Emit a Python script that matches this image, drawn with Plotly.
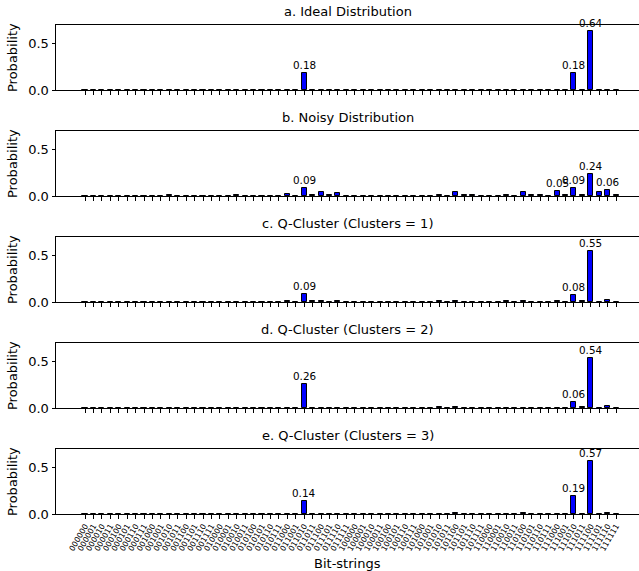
import plotly.graph_objects as go

# ---- data ----
bit_strings = [format(i, "06b") for i in range(64)]

panel_titles = [
    "a. Ideal Distribution",
    "b. Noisy Distribution",
    "c. Q-Cluster (Clusters = 1)",
    "d. Q-Cluster (Clusters = 2)",
    "e. Q-Cluster (Clusters = 3)",
]

ideal = [
    0, 0, 0, 0, 0, 0, 0, 0,
    0, 0, 0, 0, 0, 0, 0, 0,
    0, 0, 0, 0, 0, 0, 0, 0,
    0, 0, 0.18, 0, 0, 0, 0, 0,
    0, 0, 0, 0, 0, 0, 0, 0,
    0, 0, 0, 0, 0, 0, 0, 0,
    0, 0, 0, 0, 0, 0, 0, 0,
    0, 0, 0.18, 0, 0.64, 0, 0, 0,
]

noisy = [
    0.002, 0.001, 0.002, 0.001, 0.002, 0.001, 0.002, 0.002,
    0.002, 0.002, 0.006, 0.002, 0.002, 0.002, 0.002, 0.002,
    0.002, 0.002, 0.006, 0.002, 0.002, 0.002, 0.002, 0.002,
    0.025, 0.003, 0.09, 0.012, 0.046, 0.012, 0.028, 0.004,
    0.002, 0.002, 0.002, 0.002, 0.004, 0.002, 0.002, 0.002,
    0.004, 0.002, 0.01, 0.002, 0.047, 0.012, 0.012, 0.002,
    0.005, 0.002, 0.01, 0.002, 0.047, 0.012, 0.012, 0.002,
    0.052, 0.012, 0.09, 0.013, 0.243, 0.04, 0.06, 0.012,
]

qc1 = [
    0, 0, 0, 0, 0, 0, 0, 0,
    0, 0, 0.005, 0, 0, 0, 0, 0,
    0, 0, 0.004, 0, 0, 0, 0, 0,
    0.01, 0, 0.09, 0.008, 0.006, 0, 0.01, 0,
    0, 0, 0, 0, 0, 0, 0, 0,
    0, 0, 0.006, 0, 0.006, 0.002, 0.002, 0,
    0, 0, 0.006, 0, 0.006, 0, 0, 0,
    0.006, 0, 0.08, 0.01, 0.553, 0, 0.022, 0.003,
]

qc2 = [
    0, 0, 0, 0, 0, 0, 0, 0,
    0, 0, 0, 0, 0, 0, 0, 0,
    0, 0, 0, 0, 0, 0, 0, 0,
    0, 0, 0.262, 0, 0.003, 0, 0, 0,
    0, 0, 0, 0, 0, 0, 0, 0,
    0, 0, 0.006, 0, 0.006, 0, 0, 0,
    0, 0, 0.005, 0, 0.005, 0, 0, 0,
    0.005, 0, 0.063, 0.008, 0.54, 0, 0.02, 0,
]

qc3 = [
    0, 0, 0, 0, 0, 0, 0, 0,
    0, 0, 0, 0, 0, 0, 0, 0,
    0, 0, 0, 0, 0, 0, 0, 0,
    0.005, 0, 0.143, 0, 0.004, 0, 0.004, 0,
    0, 0, 0, 0, 0, 0, 0, 0,
    0, 0, 0, 0, 0.007, 0, 0, 0,
    0, 0, 0, 0, 0.007, 0, 0, 0,
    0, 0, 0.19, 0, 0.572, 0, 0.01, 0,
]

series = [ideal, noisy, qc1, qc2, qc3]
label_threshold = 0.05

# ---- layout geometry ----
W, H = 639, 571
ML, MR, MT, MB = 56, 0, 25, 57
plot_h = H - MT - MB  # 489
panel_h, gap = 65, 41
FONT = "DejaVu Sans"

fig = go.Figure()
annotations = []
x_positions = list(range(len(bit_strings)))

for k, vals in enumerate(series):
    top_px = k * (panel_h + gap)
    d1 = 1 - top_px / plot_h
    d0 = 1 - (top_px + panel_h) / plot_h
    xa = "x" if k == 0 else f"x{k+1}"
    ya = "y" if k == 0 else f"y{k+1}"
    fig.add_trace(go.Bar(
        x=x_positions, y=vals, width=0.6,
        marker=dict(color="#0000ff", line=dict(color="black", width=1)),
        xaxis=xa, yaxis=ya, showlegend=False, hoverinfo="skip",
    ))
    last = k == len(series) - 1
    fig.layout[("xaxis" if k == 0 else f"xaxis{k+1}")] = dict(
        domain=[0, 1], anchor=ya, range=[-3.44, 65.72], automargin=False,
        tickmode="array", tickvals=x_positions, ticktext=bit_strings,
        showticklabels=last, tickangle=-60,
        tickfont=dict(family=FONT, size=7.8, color="black"),
        ticks="outside", ticklen=3.5, tickwidth=0.8, tickcolor="black",
        showline=True, linecolor="black", linewidth=1, mirror=True,
        showgrid=False, zeroline=False,
    )
    fig.layout[("yaxis" if k == 0 else f"yaxis{k+1}")] = dict(
        domain=[d0, d1], anchor=xa, range=[0, 0.704], automargin=False,
        tickmode="array", tickvals=[0, 0.5], ticktext=["0.0", "0.5"],
        tickfont=dict(family=FONT, size=13, color="black"),
        ticks="outside", ticklen=3.5, tickwidth=0.8, tickcolor="black",
        showline=True, linecolor="black", linewidth=1,
        showgrid=False, zeroline=False,
    )
    annotations.append(dict(
        text=panel_titles[k], xref="paper", yref="paper", x=0.5, y=d1,
        xanchor="center", yanchor="bottom", yshift=4, showarrow=False,
        font=dict(family=FONT, size=13, color="black"),
    ))
    annotations.append(dict(
        text="Probability", xref="paper", yref="paper", x=0, y=(d0 + d1) / 2,
        xanchor="right", yanchor="middle", xshift=-34, textangle=-90,
        showarrow=False, font=dict(family=FONT, size=13, color="black"),
    ))
    for i, v in enumerate(vals):
        if v > label_threshold:
            annotations.append(dict(
                text=f"{v:.2f}", x=i, y=v, xref=xa, yref=ya,
                xanchor="center", yanchor="bottom", yshift=0, showarrow=False,
                font=dict(family=FONT, size=10.4, color="black"),
            ))

annotations.append(dict(
    text="Bit-strings", xref="paper", yref="paper", x=0.5, y=0,
    xanchor="center", yanchor="middle", yshift=-49, showarrow=False,
    font=dict(family=FONT, size=13, color="black"),
))

fig.update_layout(
    width=W, height=H,
    margin=dict(l=ML, r=MR, t=MT, b=MB),
    paper_bgcolor="white", plot_bgcolor="white",
    annotations=annotations, bargap=0,
    font=dict(family=FONT, color="black"),
)

fig.write_html(
    "out.html",
    config={"displayModeBar": False},
    post_script="document.body.style.margin='0';document.body.style.overflow='hidden';",
)
